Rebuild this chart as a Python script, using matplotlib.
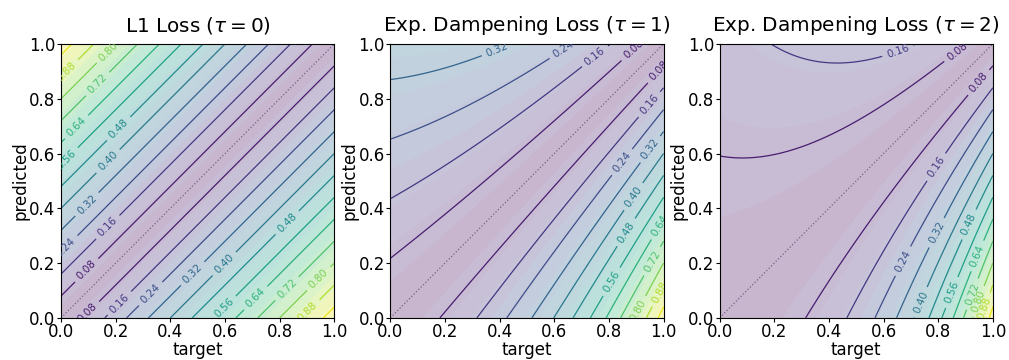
import matplotlib
matplotlib.use("Agg")
import matplotlib.pyplot as plt
from matplotlib.colors import ListedColormap
import numpy as np

taus = [0, 1, 2]
titles = [r"L1 Loss ($\tau = 0$)",
          r"Exp. Dampening Loss ($\tau = 1$)",
          r"Exp. Dampening Loss ($\tau = 2$)"]
line_levels = [0.08, 0.16, 0.24, 0.32, 0.40, 0.48, 0.56, 0.64, 0.72, 0.80, 0.88, 0.96]
fill_levels = [0.0, 0.05, 0.10, 0.15, 0.20, 0.25, 0.30, 0.35, 0.40, 0.45, 0.50,
               0.55, 0.60, 0.65, 0.70, 0.75, 0.80, 0.85, 0.90, 0.95, 1.0001]


def dampened_loss(target, predicted, tau):
    return np.abs(predicted - target) * np.exp(-tau * (1 - target))


# viridis washed out with white, opaque so the fill bands have no seams
vir = plt.get_cmap("viridis")(np.linspace(0, 1, 256))
pale = vir.copy()
pale[:, :3] = 0.3 * vir[:, :3] + 0.7
pale_cmap = ListedColormap(pale)

t = np.linspace(0, 1, 300)
T, P = np.meshgrid(t, t)

fig, axes = plt.subplots(1, 3, figsize=(10.09, 3.6), dpi=100)
plt.subplots_adjust(left=0.0605, right=0.984, bottom=0.117, top=0.878, wspace=0.205)

for ax, tau, title in zip(axes, taus, titles):
    Z = dampened_loss(T, P, tau)
    ax.contourf(T, P, Z, levels=fill_levels, cmap=pale_cmap, vmin=0, vmax=1,
                antialiased=False)
    cs = ax.contour(T, P, Z, levels=line_levels, cmap="viridis",
                    linewidths=0.9, vmin=0, vmax=1)
    ax.clabel(cs, inline=True, fontsize=7.5, fmt="%.2f")
    ax.plot([0, 1], [0, 1], ":", color="#3b2a5a", linewidth=0.9, alpha=0.6)
    ax.set_xlim(0, 1)
    ax.set_ylim(0, 1)
    ax.set_title(title, fontsize=14.4, pad=9)
    ax.set_xlabel("target", fontsize=12, labelpad=0)
    ax.set_ylabel("predicted", fontsize=12, labelpad=0)
    ax.tick_params(labelsize=12, length=3, pad=1)

plt.savefig("out.png", dpi=100)
